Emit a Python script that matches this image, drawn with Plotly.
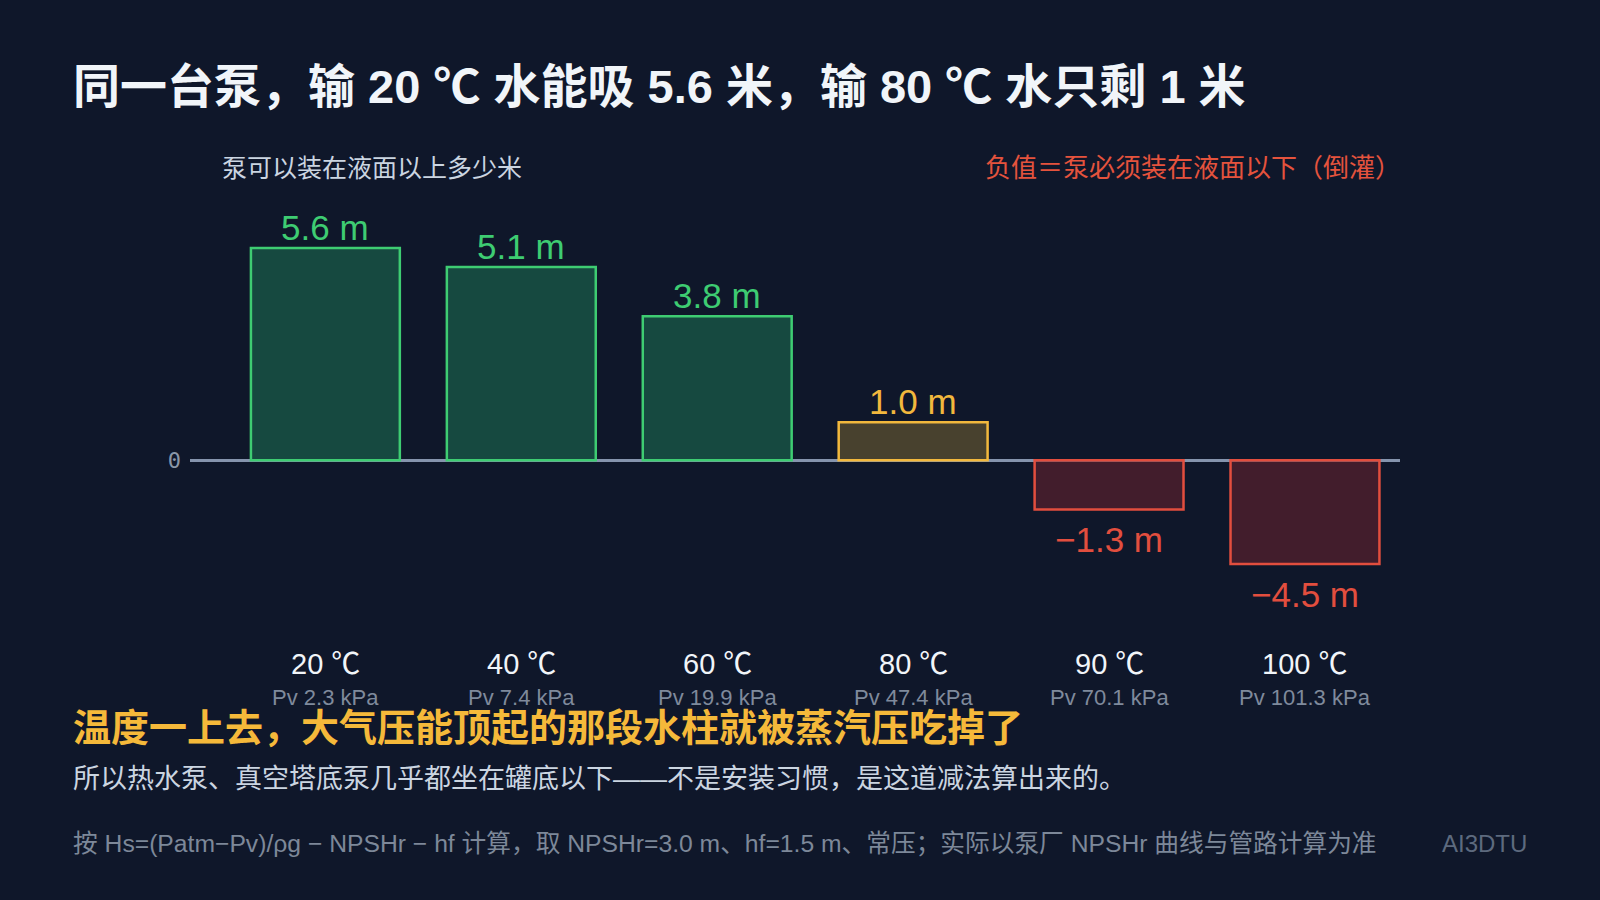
import plotly.graph_objects as go

# data
temps = ["20 ℃", "40 ℃", "60 ℃", "80 ℃", "90 ℃", "100 ℃"]
vapor_kpa = ["2.3", "7.4", "19.9", "47.4", "70.1", "101.3"]
suction_m = [5.6, 5.1, 3.8, 1.0, -1.3, -4.5]

W, H = 1600, 900
L, R, T, B = 190, 200, 195, 330
Y_MIN, Y_MAX = -2.9, 7.0
BAR_FLOOR = -2.74  # deep negative bars are cut off at the bottom of the chart

BG = "#0f172a"
FONT = "Liberation Sans, Noto Sans CJK SC, sans-serif"


def px_x(p):
  return (p - L) / (W - L - R)


def px_y(p):
  return 1 - (p - T) / (H - T - B)


def style(v):
  if v >= 2:
    return "rgba(30,115,82,0.55)", "#3ecc72"
  if v >= 0:
    return "rgba(120,100,50,0.55)", "#f2b83d"
  return "rgba(110,35,45,0.55)", "#e24e3e"


fills = [style(v)[0] for v in suction_m]
lines = [style(v)[1] for v in suction_m]
shown = [max(v, BAR_FLOOR) for v in suction_m]

fig = go.Figure()
fig.add_trace(go.Bar(
  x=list(range(len(temps))), y=shown,
  marker=dict(color=fills, line=dict(color=lines, width=2.5)),
  width=0.76, hoverinfo="skip",
))

ann = []
for i, v in enumerate(suction_m):
  label = f"{v:.1f} m".replace("-", "−")
  ann.append(dict(
    x=i, y=shown[i], xref="x", yref="y", text=label, showarrow=False,
    yanchor="bottom" if v >= 0 else "top", yshift=-1 if v >= 0 else -9,
    font=dict(size=35, color=lines[i], family=FONT),
  ))
  ann.append(dict(
    x=i, y=0, xref="x", yref="paper", text=temps[i], showarrow=False,
    yanchor="top", yshift=-76, font=dict(size=29, color="#f1f5f9", family=FONT),
  ))
  ann.append(dict(
    x=i, y=0, xref="x", yref="paper", text=f"Pv {vapor_kpa[i]} kPa", showarrow=False,
    yanchor="top", yshift=-113, font=dict(size=22, color="#7f8a9c", family=FONT),
  ))


def txt(text, x, y, size, color, anchor="left", bold=False):
  if bold:
    text = f"<b>{text}</b>"
  ann.append(dict(
    x=px_x(x), y=px_y(y), xref="paper", yref="paper", text=text, showarrow=False,
    xanchor=anchor, yanchor="middle", font=dict(size=size, color=color, family=FONT),
  ))


txt("同一台泵，输 20 ℃ 水能吸 5.6 米，输 80 ℃ 水只剩 1 米", 71, 87, 47, "#f1f5f9", bold=True)
txt("泵可以装在液面以上多少米", 220, 168, 25, "#cbd5e1")
txt("负值＝泵必须装在液面以下（倒灌）", 1403, 168, 26, "#e5533d", anchor="right")
txt("温度一上去，大气压能顶起的那段水柱就被蒸汽压吃掉了", 71, 728, 38, "#f5b93a", bold=True)
txt("所以热水泵、真空塔底泵几乎都坐在罐底以下——不是安装习惯，是这道减法算出来的。", 71, 779, 27, "#cbd5e1")
txt("按 Hs=(Patm−Pv)/ρg − NPSHr − hf 计算，取 NPSHr=3.0 m、hf=1.5 m、常压；实际以泵厂 NPSHr 曲线与管路计算为准",
    71, 843, 24.7, "#7d8899")
txt("AI3DTU", 1529, 843, 24, "#5d6a7e", anchor="right")

fig.update_layout(
  width=W, height=H, paper_bgcolor=BG, plot_bgcolor=BG,
  margin=dict(l=L, r=R, t=T, b=B), showlegend=False,
  annotations=ann, font=dict(family=FONT),
)
fig.update_xaxes(range=[-0.691, 5.485], showticklabels=False, showgrid=False,
                 zeroline=False, showline=False)
fig.update_yaxes(range=[Y_MIN, Y_MAX], showgrid=False, tickvals=[0], ticktext=["0"],
                 tickfont=dict(family="DejaVu Sans Mono", size=22, color="#8a96a8"),
                 ticklabelstandoff=8,
                 zeroline=True, zerolinecolor="#8594ad", zerolinewidth=3,
                 showline=False, layer="above traces")

fig.write_html("out.html", config={"displayModeBar": False},
               post_script="document.body.style.margin='0';document.body.style.background='#0f172a';")
